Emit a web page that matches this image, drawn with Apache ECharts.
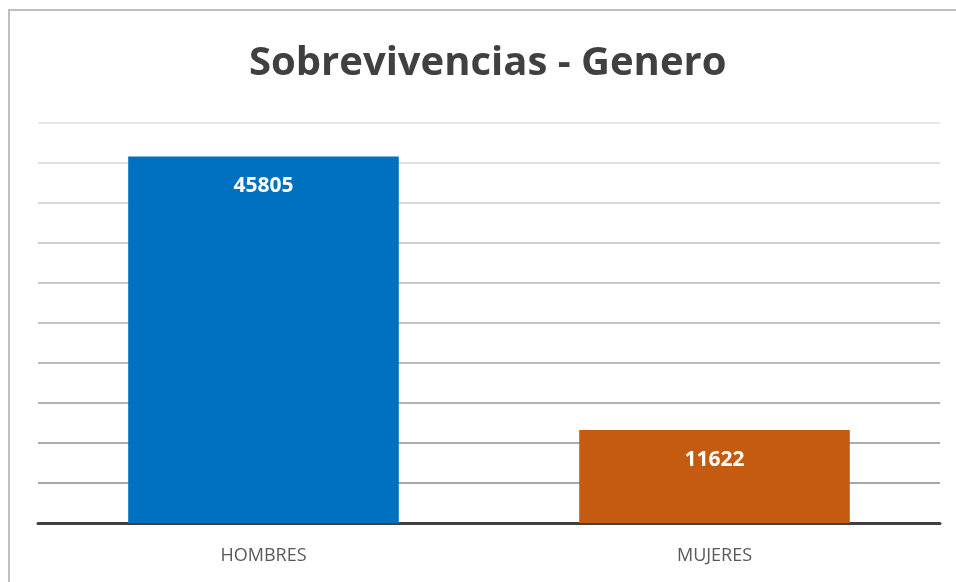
<!DOCTYPE html>
<html>
<head>
<meta charset="utf-8">
<script src="https://cdn.jsdelivr.net/npm/echarts@6/dist/echarts.min.js"></script>
<style>
    html, body { margin: 0; padding: 0; background: #fff; }
    #chart { width: 956px; height: 582px; }
</style>
</head>
<body>
<div id="chart"></div>
<script>
    var categories = ['HOMBRES', 'MUJERES']
    var values = [45805, 11622]
    var barColors = ['#0070C0', '#C55A11']
    // grid lines get lighter towards the top
    var gridColors = ['#a6a6a6', '#a6a6a6', '#acacac', '#b3b3b3', '#bababa', '#c2c2c2', '#c9c9c9', '#d0d0d0', '#d8d8d8', '#e0e0e0', '#e8e8e8']

    var myChart = echarts.init(document.getElementById('chart'))
    var option = {
        animation: false,
        title: {
            text: 'Sobrevivencias - Genero',
            left: 244,
            top: 39,
            textStyle: {
                fontFamily: 'Open Sans',
                fontWeight: 'bold',
                fontSize: 40,
                color: '#404040'
            }
        },
        graphic: [{
            type: 'rect',
            shape: { x: 9, y: 10, width: 1000, height: 1000 },
            style: { fill: 'none', stroke: '#bfbfbf', lineWidth: 2 },
            silent: true
        }],
        grid: {
            left: 38,
            right: 16,
            top: 123,
            bottom: 59
        },
        xAxis: {
            type: 'category',
            data: categories,
            axisTick: { show: false },
            axisLine: {
                show: true,
                lineStyle: { color: '#404040', width: 3 }
            },
            axisLabel: {
                margin: 24,
                fontFamily: 'Open Sans',
                fontSize: 18,
                color: '#595959'
            }
        },
        yAxis: {
            type: 'value',
            min: 0,
            max: 50000,
            interval: 5000,
            axisLabel: { show: false },
            axisLine: { show: false },
            axisTick: { show: false },
            splitLine: {
                show: true,
                lineStyle: { color: gridColors, width: 2 }
            }
        },
        series: [{
            type: 'bar',
            barWidth: '60%',
            data: values.map(function(v, i) {
                return { value: v, itemStyle: { color: barColors[i] } }
            }),
            label: {
                show: true,
                position: 'insideTop',
                distance: 19,
                fontFamily: 'Open Sans',
                fontWeight: 'bold',
                fontSize: 21,
                color: '#ffffff'
            }
        }]
    };
    myChart.setOption(option)
</script>
</body>
</html>
